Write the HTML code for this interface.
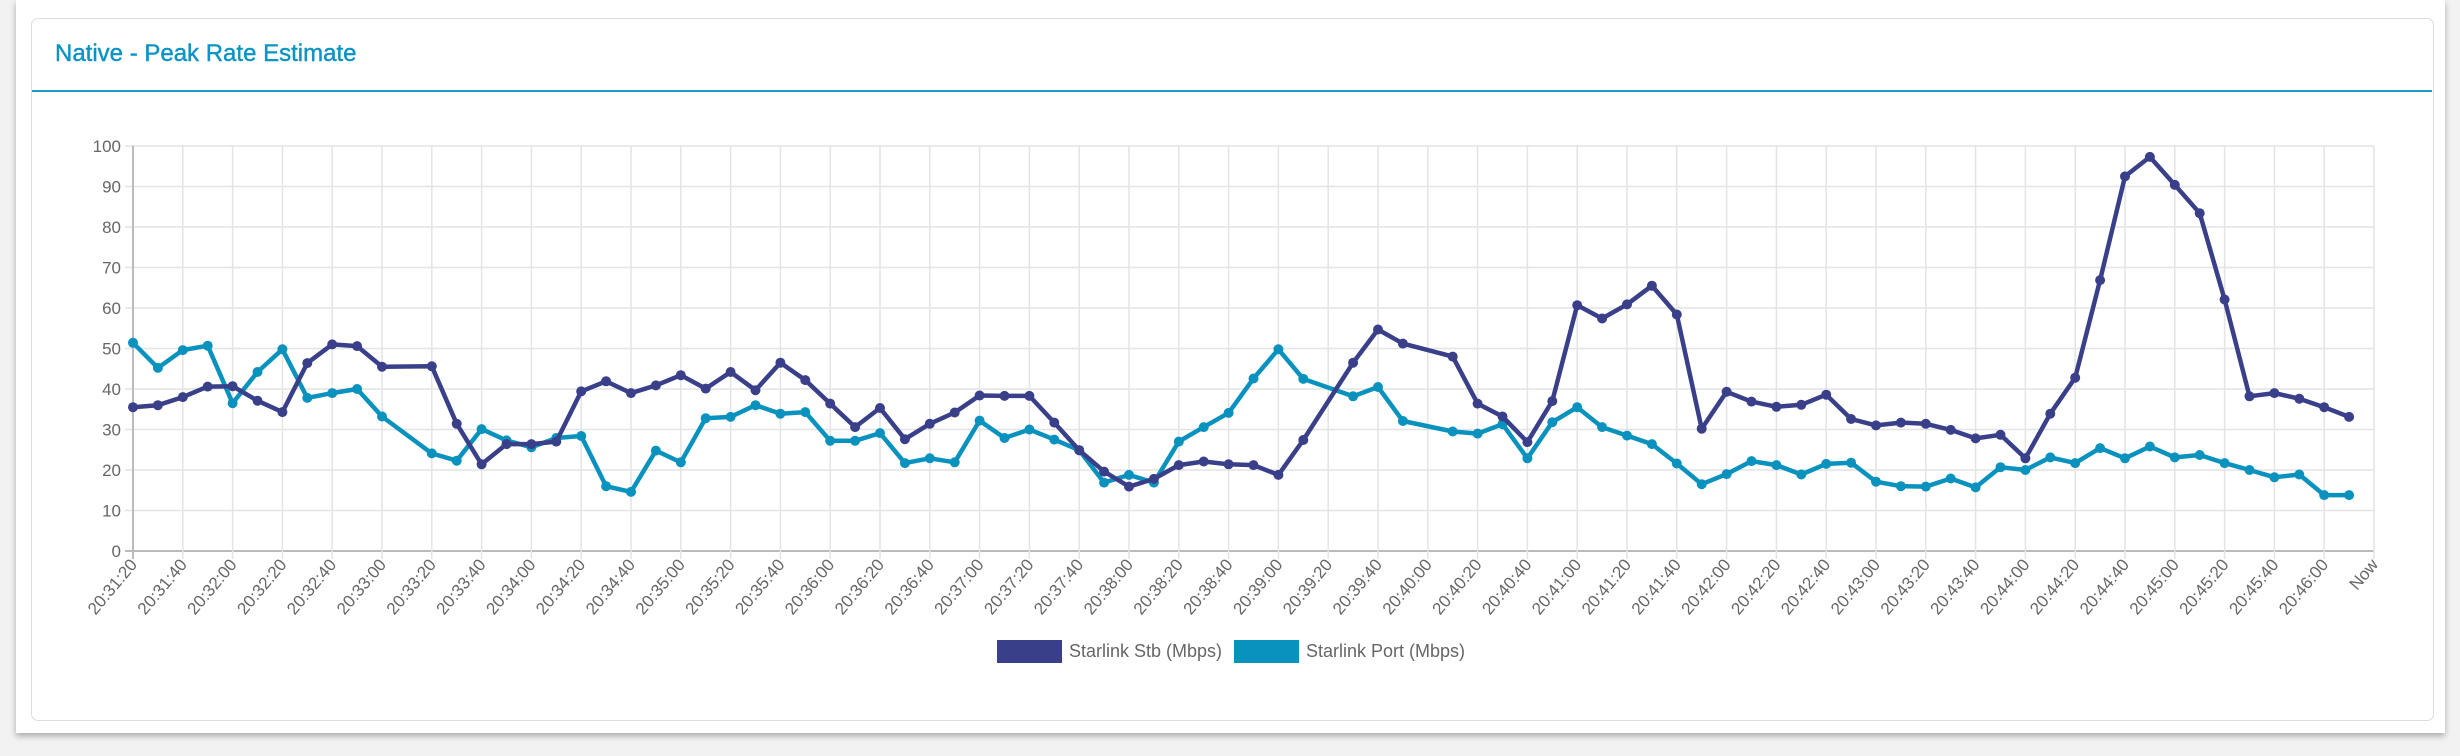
<!DOCTYPE html>
<html><head><meta charset="utf-8"><style>
html,body{margin:0;padding:0;width:2460px;height:756px;overflow:hidden;background:#f2f2f2;font-family:"Liberation Sans",sans-serif}
#panel{position:absolute;left:16px;top:0;width:2429px;height:733px;background:#fff;box-shadow:0 3px 6px rgba(0,0,0,.3)}
#card{position:absolute;left:31px;top:18px;width:2401px;height:701px;border:1px solid #dcdcdc;border-radius:7px;background:#fff}
#title{position:absolute;left:55px;top:40px;font-size:24px;color:#0b93c4;white-space:nowrap;-webkit-text-stroke:0.4px #0b93c4}
#hr{position:absolute;left:32px;top:90px;width:2400px;height:2px;background:#1a9ccc}
svg{position:absolute;left:0;top:0}
</style></head><body>
<div id="panel"></div><div id="card"></div>
<div id="title">Native - Peak Rate Estimate</div>
<div id="hr"></div>
<svg id="c" width="2460" height="756" xmlns="http://www.w3.org/2000/svg"></svg>
<script>
var dark={0:35.5,1:36,2:38,3:40.6,4:40.7,5:37.1,6:34.3,7:46.4,8:51,9:50.6,10:45.5,12:45.6,13:31.4,14:21.4,15:26.4,16:26.4,17:27,18:39.4,19:41.9,20:39,21:40.9,22:43.4,23:40.1,24:44.2,25:39.7,26:46.5,27:42.2,28:36.4,29:30.6,30:35.3,31:27.6,32:31.4,33:34.2,34:38.4,35:38.3,36:38.3,37:31.7,38:24.9,39:19.6,40:15.9,41:17.8,42:21.2,43:22.1,44:21.4,45:21.2,46:18.8,47:27.4,49:46.5,50:54.7,51:51.2,53:48,54:36.4,55:33.2,56:26.9,57:37,58:60.7,59:57.4,60:60.9,61:65.5,62:58.4,63:30.2,64:39.3,65:36.9,66:35.6,67:36.1,68:38.6,69:32.6,70:31,71:31.7,72:31.4,73:29.9,74:27.8,75:28.7,76:22.9,77:33.9,78:42.8,79:66.9,80:92.5,81:97.3,82:90.4,83:83.4,84:62.1,85:38.2,86:39,87:37.6,88:35.5,89:33.1};
var cyan={0:51.4,1:45.2,2:49.6,3:50.7,4:36.5,5:44.2,6:49.8,7:37.8,8:39,9:40,10:33.2,12:24.1,13:22.3,14:30.1,15:27.3,16:25.6,17:27.9,18:28.4,19:16,20:14.6,21:24.8,22:21.9,23:32.8,24:33.1,25:36,26:33.9,27:34.3,28:27.2,29:27.2,30:29.1,31:21.7,32:22.9,33:21.9,34:32.2,35:27.9,36:30,37:27.5,38:24.9,39:16.9,40:18.8,41:16.9,42:27,43:30.6,44:34.1,45:42.6,46:49.8,47:42.5,49:38.2,50:40.5,51:32.1,53:29.5,54:29,55:31.3,56:22.9,57:31.8,58:35.5,59:30.6,60:28.5,61:26.4,62:21.6,63:16.5,64:19,65:22.2,66:21.2,67:18.9,68:21.5,69:21.8,70:17.1,71:16,72:15.9,73:17.9,74:15.7,75:20.7,76:20,77:23.1,78:21.7,79:25.4,80:22.9,81:25.8,82:23.1,83:23.7,84:21.7,85:20,86:18.2,87:18.9,88:13.8,89:13.8};
var L=133,R=2374,T=146,B=551,dx=(R-L)/90;
function X(i){return L+i*dx}function Y(v){return B-v*(B-T)/100}
var s='';
for(var v=0;v<=100;v+=10){var y=Y(v);s+='<line x1="'+(L-8)+'" x2="'+R+'" y1="'+y+'" y2="'+y+'" stroke="'+(v==0?'#bbb':'#e4e4e4')+'" stroke-width="'+(v==0?2:1.5)+'"/>';
s+='<text x="'+(L-12)+'" y="'+(y+6)+'" text-anchor="end" font-size="17" fill="#666">'+v+'</text>';}
for(var k=0;k<=45;k++){var x=X(k*2);s+='<line x1="'+x+'" x2="'+x+'" y1="'+T+'" y2="'+(B+8)+'" stroke="'+(k==0?'#bbb':'#e4e4e4')+'" stroke-width="'+(k==0?2:1.5)+'"/>';
var t=31*60+20+k*20;var m=Math.floor(t/60),ss=t%60;var lab=(k==45)?'Now':'20:'+m+':'+(ss<10?'0'+ss:ss);
s+='<text transform="translate('+(x+5)+','+(B+14)+') rotate(-50)" text-anchor="end" font-size="17" fill="#666">'+lab+'</text>';}
function series(d,c){var p=[];for(var i=0;i<90;i++)if(d[i]!==undefined)p.push(X(i).toFixed(1)+','+Y(d[i]).toFixed(1));
var o='<polyline points="'+p.join(' ')+'" fill="none" stroke="'+c+'" stroke-width="4.5" stroke-linejoin="round"/>';
p.forEach(function(q){var a=q.split(',');o+='<circle cx="'+a[0]+'" cy="'+a[1]+'" r="5" fill="'+c+'"/>';});return o;}
s+=series(cyan,'#0a92bf');s+=series(dark,'#3a3f8a');
s+='<rect x="997" y="640" width="65" height="23" fill="#3a3f8a"/><text x="1069" y="657" font-size="18" fill="#666">Starlink Stb (Mbps)</text>';
s+='<rect x="1234" y="640" width="65" height="23" fill="#0a92bf"/><text x="1306" y="657" font-size="18" fill="#666">Starlink Port (Mbps)</text>';
document.getElementById('c').innerHTML=s;
</script>
</body></html>
